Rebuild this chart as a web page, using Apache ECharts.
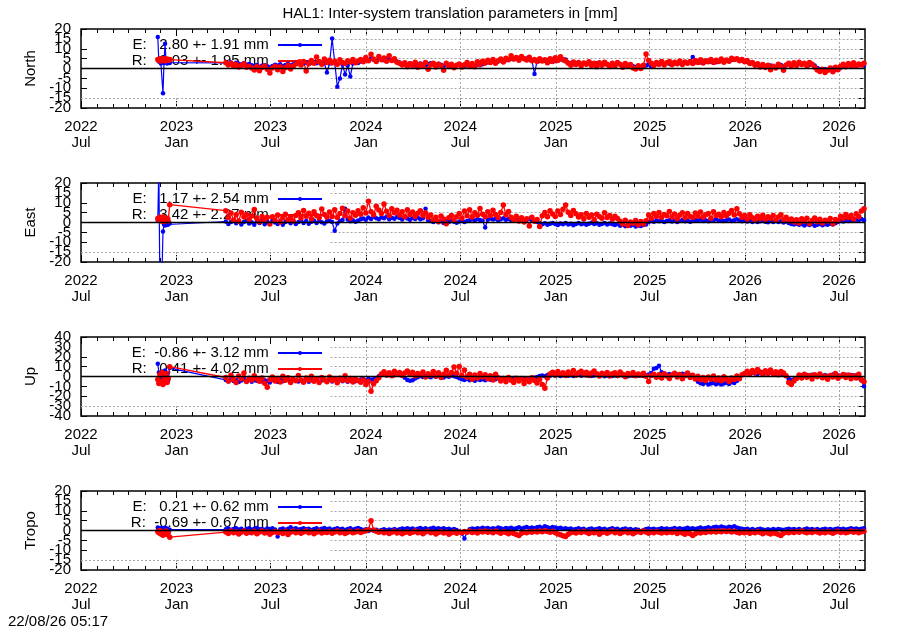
<!DOCTYPE html>
<html><head><meta charset="utf-8">
<script src="https://cdn.jsdelivr.net/npm/echarts@6/dist/echarts.min.js"></script>
<style>html,body{margin:0;padding:0;background:#fff}#c{width:900px;height:630px}</style>
</head><body><div id="c"></div>
<script>
const panelNames = ['North', 'East', 'Up', 'Tropo'];
const yRanges = [[-20, 20, 5], [-20, 20, 5], [-40, 40, 10], [-20, 20, 5]];
const yTicksSmall = [-20, -15, -10, -5, 0, 5, 10, 15, 20];
const yTicksUp = [-40, -30, -20, -10, 0, 10, 20, 30, 40];
const legendE = ['E:   2.80 +- 1.91 mm', 'E:   1.17 +- 2.54 mm', 'E:  -0.86 +- 3.12 mm', 'E:   0.21 +- 0.62 mm'];
const legendR = ['R:   3.03 +- 1.95 mm', 'R:   3.42 +- 2.27 mm', 'R:   0.41 +- 4.02 mm', 'R:  -0.69 +- 0.67 mm'];
const titleText = 'HAL1: Inter-system translation parameters in [mm]';
const footerText = '22/08/26 05:17';
const xStart = '2022-07-01';
const xEnd = '2026-08-20';
const majorTicks = ['2022-07-01', '2023-01-01', '2023-07-01', '2024-01-01', '2024-07-01', '2025-01-01', '2025-07-01', '2026-01-01', '2026-07-01'];
const monthNames = ['Jan', 'Feb', 'Mar', 'Apr', 'May', 'Jun', 'Jul', 'Aug', 'Sep', 'Oct', 'Nov', 'Dec'];
const gridCut = '2023-10-25';

// early segment (Nov/Dec 2022)
const earlyDates = ['2022-11-26', '2022-11-28', '2022-11-30', '2022-12-02', '2022-12-04', '2022-12-06', '2022-12-08', '2022-12-10', '2022-12-12', '2022-12-14', '2022-12-16', '2022-12-19'];
const northEEarly = [16, 3.5, 4, 2.5, 3, -12.5, 3, 12.5, 3.5, 2.5, 3, 2.8];
const northREarly = [4.5, 4.0, 5.0, 3.8, 4.6, 4.2, 5.1, 3.9, 4.4, 4.8, 4.0, 4.5];
const eastEEarly = [1.0, 28, -30, -30, -28, -4.6, -1.0, -1.5, -0.8, -1.2, -1.0, -0.5];
const eastREarly = [2.0, 1.2, 2.6, 0.8, 1.9, 2.8, 0.5, 1.5, 1.0, 2.2, 0.7, 9.0];
const upEEarly = [13, 4, -6, 2, -3, 5, -2, 6, 0, 3, -4, 8.5];
const upREarly = [-3, -7, 2, -5, 4, -8, 0, -4, 3, -6, -2, 10];
const tropoEEarly = [1.5, 1.0, 0.8, 1.2, 0.6, 1.1, 0.9, 1.4, 0.7, 1.0, 0.5, 0.4];
const tropoREarly = [-0.5, -1.2, 0.0, -1.8, -0.8, -2.4, -1.0, -1.6, -0.3, -2.0, -1.4, -3.4];

// main segment: from mainStart, one value every mainStepDays days
const mainStart = '2023-04-06';
const mainStepDays = 5;

const northE = [
2.8,2.5,3.1,2.2,2.9,2.4,2.0,2.6,1.9,2.3,
1.6,1.2,1.8,0.9,1.4,1.7,1.1,0.6,1.3,1.9,
1.5,2.1,1.2,1.8,2.4,1.6,2.2,2.8,2.5,2.0,
2.7,3.1,2.3,2.9,3.3,2.6,3.0,2.4,2.8,-2.0,
2.5,15.2,3.0,-9.2,-5.0,2.0,-3.0,1.5,-4.0,2.5,
3.2,2.8,3.5,3.9,4.6,4.1,5.0,4.4,3.8,5.2,
4.7,4.2,5.1,4.5,3.9,4.3,3.5,3.0,2.4,2.1,
1.8,2.6,2.2,1.5,1.9,2.5,2.0,1.6,2.3,2.7,
2.1,1.7,2.4,1.9,1.4,2.2,1.8,1.3,1.0,1.6,
2.0,1.4,1.1,1.8,1.5,0.9,1.3,1.9,1.6,2.2,
2.7,3.1,3.4,3.8,3.2,3.6,4.0,3.5,4.2,4.6,
5.0,4.7,5.3,4.9,5.4,4.8,5.1,4.5,4.2,-2.8,
4.0,3.8,4.3,3.9,4.1,3.6,4.4,3.8,4.3,4.7,
4.2,4.5,3.0,2.6,2.2,2.8,2.4,2.0,2.7,2.3,
2.9,2.5,2.1,2.6,2.2,1.8,2.4,2.0,1.6,2.3,
1.9,2.5,2.1,1.7,2.2,1.5,1.9,1.2,0.8,0.5,
0.3,0.9,1.5,2.0,1.2,1.8,2.3,2.0,2.6,2.2,
2.8,2.4,2.1,2.7,2.3,2.9,2.5,3.0,2.6,3.1,
5.8,3.2,3.5,3.1,3.7,3.3,3.9,3.4,3.8,3.2,
3.6,4.0,3.5,4.1,3.7,4.3,4.6,4.9,4.4,4.0,
3.8,3.3,3.0,2.6,2.2,1.8,1.4,1.9,1.2,0.9,
1.5,1.1,0.7,1.3,1.8,1.0,1.6,2.1,1.7,2.3,
1.9,2.4,2.0,2.6,2.2,1.8,2.3,1.5,0.2,-0.3,
-0.8,-0.2,-1.0,-0.5,0.0,-0.7,-0.3,0.4,1.0,1.4,
1.8,1.3,1.7,1.2,1.6,2.0,1.5];
const northR = [
2.9,1.8,2.6,1.2,2.2,0.8,1.5,2.4,0.6,1.1,
0.2,-0.8,1.0,-1.2,0.5,1.3,-0.4,-2.3,0.3,1.1,
-0.6,0.9,-1.5,0.4,1.6,-0.2,1.2,2.3,3.2,1.8,
3.5,-1.3,2.4,4.1,2.7,5.8,3.6,2.2,4.8,3.0,
4.2,2.8,3.7,2.1,4.4,3.1,2.5,3.9,3.3,4.6,
2.9,3.8,4.5,3.4,5.6,3.9,7.2,4.8,3.6,6.1,
4.4,5.3,3.7,6.4,4.1,5.0,3.2,2.7,1.8,2.9,
0.9,2.4,1.5,3.2,0.6,2.1,1.2,3.0,-0.4,1.8,
2.6,0.8,2.2,1.4,-0.9,2.7,1.0,2.1,0.4,1.6,
2.3,0.7,1.9,3.0,1.2,2.5,0.9,3.4,2.0,3.7,
2.8,4.2,3.1,4.5,2.6,3.9,4.8,3.3,5.2,4.4,
6.5,4.8,5.6,4.2,6.1,5.0,4.3,5.7,3.9,4.6,
3.5,5.0,3.8,4.4,2.9,4.9,3.6,5.5,4.1,6.0,
4.6,3.8,2.7,1.6,3.3,2.0,3.1,1.4,2.8,2.2,
3.4,1.5,2.6,0.9,2.9,1.7,3.2,2.1,1.0,2.7,
1.3,3.0,2.2,0.6,2.5,1.1,2.0,0.2,-0.3,1.4,
0.0,1.6,7.3,4.0,2.6,1.5,3.1,2.2,3.6,1.8,
2.9,3.5,1.9,3.2,2.4,3.8,2.0,3.3,2.7,3.6,
2.5,4.1,3.0,4.4,2.8,3.9,3.4,4.6,3.1,4.2,
3.5,4.8,3.2,4.3,3.7,5.2,4.5,5.0,3.9,4.6,
3.4,4.0,2.5,3.1,1.6,2.4,0.8,2.0,0.5,1.7,
-0.6,1.2,0.3,2.2,1.0,-0.9,1.8,2.6,1.1,2.9,
1.5,3.2,2.0,2.7,1.3,3.0,2.1,0.6,-0.8,-1.5,
-0.4,-2.0,-0.9,0.3,-1.6,0.6,-0.6,1.1,2.2,0.9,
2.5,1.4,2.9,1.0,2.3,1.8,2.6];
const eastE = [
0.5,-0.8,0.2,1.1,-0.4,0.7,-1.0,0.3,0.9,-0.5,
0.1,-1.2,0.6,-0.3,0.8,-0.9,0.4,-0.6,1.0,0.0,
-0.7,0.5,-1.1,0.2,0.9,-0.4,0.6,-0.8,0.3,1.2,
-0.2,0.7,-0.6,0.4,1.0,-0.3,0.8,0.1,-0.5,0.6,
0.9,0.2,-4.2,-0.5,0.8,1.3,7.0,1.5,0.6,1.2,
0.4,1.0,1.6,2.0,1.4,2.5,1.8,2.9,2.2,1.6,
2.7,2.1,3.0,1.7,2.4,1.9,2.8,2.3,1.5,2.6,
2.0,1.4,2.3,1.8,2.5,1.6,2.1,7.0,1.2,0.8,
0.3,0.9,0.1,0.7,-0.2,0.6,0.2,1.0,0.4,-0.1,
0.5,0.9,0.3,0.8,1.2,1.6,1.0,1.8,1.3,0.9,
-2.5,1.4,2.0,1.5,1.9,1.2,1.7,2.2,1.4,1.8,
1.1,1.6,2.0,1.3,1.7,1.0,1.5,1.9,1.2,0.8,
0.2,-0.5,-0.9,-0.4,-1.1,-0.6,-0.2,-0.8,-1.3,-0.5,
-0.9,-0.3,-1.0,-0.6,-1.4,-0.7,-0.2,-0.9,-0.5,-1.2,
-0.6,-0.1,-0.8,-0.4,-1.1,-0.7,-0.3,-1.0,-0.5,-0.9,
-1.3,-0.8,-1.6,-1.2,-1.9,-1.4,-1.7,-1.1,-2.0,-1.5,
-1.8,-1.3,-1.0,0.2,0.8,0.4,1.1,0.6,0.9,0.3,
0.7,1.2,0.5,0.9,0.2,0.8,1.3,0.6,1.0,0.4,
0.8,1.3,0.9,1.5,0.7,1.2,0.6,1.4,1.0,1.6,
0.9,1.3,0.7,1.1,1.5,0.8,1.2,1.7,1.0,0.6,
1.1,0.5,0.9,0.3,0.7,0.2,0.6,0.9,0.4,0.1,
0.7,0.3,0.8,0.2,0.6,0.0,0.5,-0.3,-0.7,-1.0,
-0.6,-1.2,-0.8,-1.5,-0.9,-1.3,-0.7,-1.6,-1.1,-0.8,
-1.4,-0.9,-1.2,-0.6,-1.0,-0.4,0.3,0.8,0.5,1.1,
0.7,1.3,0.9,1.5,1.0,1.8,1.2];
const eastR = [
6.0,2.5,4.8,1.2,3.9,0.6,5.2,2.8,4.1,1.7,
3.3,6.6,2.0,0.4,3.1,1.5,2.6,-0.8,2.9,1.1,
3.8,0.2,2.4,4.2,1.3,2.7,0.8,3.5,5.0,2.3,
6.1,3.2,4.7,1.9,5.5,3.6,2.4,6.8,4.0,2.8,
5.3,3.1,6.4,2.5,4.6,7.2,3.4,5.8,2.2,4.9,
3.7,6.0,4.2,7.5,4.8,10.8,5.4,3.9,8.2,6.3,
4.5,9.4,5.7,3.6,7.0,4.9,6.2,3.8,5.5,2.9,
6.4,4.1,5.3,3.0,4.7,6.0,3.5,4.9,2.6,3.8,
1.2,2.7,0.5,3.3,1.8,-0.6,2.4,3.6,1.0,2.9,
4.6,2.2,5.8,3.4,6.5,2.8,4.9,3.7,7.1,4.2,
2.9,5.5,3.6,6.2,4.0,2.5,5.1,8.8,3.9,5.6,
2.6,1.4,3.2,0.8,2.4,0.3,1.9,-1.8,2.7,0.6,
1.5,-2.0,3.4,5.1,2.9,6.0,4.3,3.1,5.8,4.0,
6.7,8.9,5.2,3.6,6.1,4.4,2.8,3.9,1.9,4.5,
2.6,3.8,1.4,4.2,3.0,2.1,4.9,2.5,3.5,1.7,
3.2,2.0,0.6,-0.8,1.2,-1.5,0.3,-0.4,1.0,-1.2,
0.5,-0.7,0.9,3.8,2.2,4.6,3.0,5.1,2.6,4.0,
3.4,5.6,2.8,4.3,1.9,3.7,5.0,2.4,4.5,3.1,
2.5,4.8,3.2,5.3,2.7,3.9,4.6,2.2,5.5,3.6,
4.2,2.9,5.1,3.4,4.7,6.1,3.8,7.0,4.4,2.6,
3.5,1.8,3.9,2.4,1.4,3.2,2.0,3.7,1.6,2.9,
2.2,3.6,1.1,2.8,3.9,1.5,2.6,0.9,1.8,0.2,
1.4,-0.3,1.9,0.6,2.1,-0.5,1.0,2.3,0.4,1.6,
-0.2,1.2,0.7,2.0,-0.6,1.5,0.9,3.2,2.1,4.0,
2.5,3.6,1.8,4.4,2.9,5.8,7.0];
const upE = [
-3.5,-5.0,-2.8,-4.6,-3.2,-5.5,-4.1,-2.9,-4.8,-3.6,
-5.2,-3.9,-4.4,-2.7,-5.0,-3.8,-4.5,-6.0,-3.3,-4.2,
-5.4,-3.1,-4.7,-3.9,-2.6,-4.9,-3.5,-4.3,-5.1,-3.7,
-4.6,-2.9,-5.3,-3.8,-4.2,-3.0,-5.6,-4.0,-3.4,-4.8,
-3.2,-5.0,-3.7,-4.4,-2.8,-4.9,-3.6,-5.2,-4.1,-3.3,
-4.7,-3.9,-3.0,-2.5,-3.8,-2.2,-3.4,-2.7,-1.5,0.2,
1.4,2.3,0.9,1.8,2.6,1.2,2.0,1.5,0.6,-1.2,
-3.5,-4.2,-3.8,-2.1,-0.8,0.4,-0.5,0.8,0.1,-0.7,
0.5,-0.3,1.0,0.2,-0.9,0.6,-0.2,0.9,0.3,-0.6,
-1.8,-2.9,-3.6,-2.4,-3.9,-3.1,-4.2,-2.7,-3.5,-2.8,
-3.8,-2.5,-3.2,-2.1,-2.9,-1.7,-2.4,-1.5,-2.6,-1.9,
-2.8,-1.4,-2.2,-3.0,-1.6,-2.5,-1.8,-3.3,-2.0,-1.2,
-0.5,0.4,1.0,0.3,1.4,0.7,1.8,0.9,1.5,0.6,
1.3,2.0,0.8,1.6,0.5,1.2,1.9,0.7,1.4,0.9,
1.7,0.4,1.1,2.1,0.8,1.5,0.3,1.0,1.8,0.6,
1.2,0.5,1.6,0.9,1.4,0.2,1.1,0.7,1.5,0.8,
1.3,0.6,1.0,1.9,3.5,7.8,8.5,11.0,4.2,2.6,
1.8,2.5,1.4,2.9,2.1,1.6,2.7,1.9,2.4,1.2,
0.5,-2.0,-5.2,-6.8,-7.5,-6.1,-8.0,-7.2,-6.5,-7.8,
-6.9,-8.2,-7.0,-6.3,-7.6,-5.8,-6.7,-4.5,-1.8,1.5,
2.8,3.4,2.5,3.9,3.1,2.6,3.6,4.2,3.3,2.7,
3.8,3.0,2.4,3.5,2.9,1.8,0.5,-2.4,-3.5,-2.8,
-1.5,0.4,1.2,0.6,1.5,0.9,1.8,1.1,0.3,1.4,
0.8,1.6,0.5,1.2,1.9,0.7,1.3,0.4,1.0,1.7,
0.9,1.5,0.6,1.2,-1.5,-4.0,-9.8];
const upR = [
-1.0,-4.5,1.2,-3.0,-6.2,0.5,-2.4,3.6,-5.1,-1.8,
-3.6,0.8,-2.2,-4.9,-1.5,-6.8,-11.0,-3.2,-0.4,-4.6,
-2.0,-5.5,0.3,-3.8,-1.2,-6.1,-2.7,-4.3,0.9,-3.5,
-5.8,-1.6,-3.9,0.2,-4.7,-2.3,-6.0,-1.0,-3.4,-5.2,
-0.6,-4.0,-2.5,-6.3,-1.8,-3.7,0.7,-4.4,-2.1,-5.6,
-2.9,-4.1,-5.8,-3.6,-8.2,-5.0,-15.0,-7.4,-4.3,-1.2,
2.5,4.8,1.6,3.9,0.8,5.2,2.7,4.1,1.3,3.5,
5.6,2.0,4.4,0.5,3.1,1.8,4.6,-0.4,2.9,1.2,
5.0,0.6,3.7,-1.1,2.4,6.3,1.5,4.0,9.6,3.2,
10.2,1.0,6.5,-0.8,2.3,-2.9,1.4,-1.6,3.0,-0.5,
1.8,-2.4,0.7,-3.6,2.2,-1.3,-4.5,-2.0,-5.2,-0.9,
-3.8,-6.0,-1.7,-4.6,-2.5,-7.1,-3.0,-5.4,-1.2,-4.0,
-6.5,-2.8,-8.0,-12.0,-1.5,2.6,4.3,1.4,5.0,2.1,
3.7,0.9,4.6,2.4,6.0,1.6,3.9,5.2,2.0,4.4,
1.1,3.6,5.5,2.8,0.6,3.3,1.9,4.1,0.4,2.7,
3.8,1.0,4.5,2.2,-0.2,3.1,1.5,4.0,0.8,2.6,
1.3,3.4,0.2,-5.0,0.9,2.3,-0.8,1.7,-1.5,2.9,
0.4,-1.9,1.6,3.2,-0.6,2.0,-2.2,0.8,3.5,-1.0,
1.2,-2.5,0.3,-3.4,-1.1,-4.0,-0.5,-2.8,0.6,-3.6,
-1.6,-4.3,-0.2,-2.9,-5.0,-1.4,-3.1,0.5,-2.2,1.8,
3.0,5.4,2.6,6.2,3.8,7.0,4.5,2.2,5.8,3.4,
6.6,2.9,4.8,1.7,5.1,3.6,0.8,-6.2,-8.0,-4.5,
-2.0,1.4,-1.6,2.3,-0.7,0.9,-2.5,1.8,-0.3,2.6,
-1.2,0.5,-2.8,1.1,-0.4,3.0,-1.7,0.2,2.1,-1.0,
1.5,-2.3,0.8,-1.4,2.4,-3.0,-5.2];
const tropoE = [
0.6,1.0,0.4,0.8,1.2,0.5,0.9,0.3,0.7,1.1,
0.5,0.9,1.3,0.6,0.8,0.4,1.0,0.7,1.2,0.5,
-3.0,0.6,1.0,0.4,0.9,1.6,0.7,1.1,0.5,0.8,
1.2,0.6,0.9,0.3,0.8,1.1,0.5,0.9,1.3,0.7,
1.0,0.4,0.8,1.2,0.6,0.9,0.3,0.7,1.1,0.5,
0.9,1.3,0.8,0.2,0.6,-0.2,0.3,0.0,0.4,-0.1,
0.3,0.6,0.1,0.5,0.2,0.7,0.3,0.6,1.0,0.8,
1.2,0.7,1.0,0.5,0.9,1.3,0.8,1.1,0.6,1.0,
1.4,0.9,1.2,0.7,1.1,0.6,0.9,0.4,0.8,0.2,
-0.5,-1.5,-4.0,-0.8,0.6,1.0,0.7,1.2,0.9,1.4,
1.0,1.3,0.8,1.2,0.9,1.5,1.1,0.7,1.3,1.0,
1.4,0.9,1.2,1.6,1.0,1.4,1.8,1.2,1.5,1.1,
1.6,1.9,1.4,2.1,1.7,1.3,1.8,1.5,1.1,1.4,
0.9,1.2,0.7,1.0,0.5,0.8,1.1,0.6,0.9,0.3,
0.7,1.0,0.5,0.8,1.2,0.6,0.9,0.4,0.8,1.1,
0.6,0.9,0.3,0.7,1.0,0.5,0.8,0.2,0.6,0.4,
-0.5,0.3,0.7,1.0,0.6,0.9,0.5,0.8,1.2,0.7,
1.0,0.6,0.9,1.3,0.8,1.1,0.7,1.0,1.4,0.9,
1.2,0.8,1.1,1.5,1.0,1.3,1.7,1.2,1.6,1.9,
1.5,2.0,1.7,1.4,1.9,1.6,2.1,1.5,1.2,0.9,
0.6,0.9,0.4,0.7,0.3,0.6,0.9,0.5,0.2,0.6,
0.3,0.7,0.4,0.8,0.5,0.2,0.6,0.9,0.5,0.8,
0.4,0.7,0.3,0.6,1.0,0.5,0.8,0.4,0.7,0.3,
0.6,0.9,0.5,0.8,0.4,0.7,1.0,0.6,0.9,0.5,
0.8,1.1,0.7,1.0,0.6,0.9,1.2];
const tropoR = [
-0.8,-1.5,-0.3,-1.2,-0.6,-1.8,-0.9,-0.2,-1.4,-0.7,
-1.1,-0.4,-1.6,-0.8,-0.3,-1.3,-0.6,-1.9,-1.0,-0.5,
-1.2,-0.7,-1.5,-0.4,-2.0,-0.9,-0.3,-1.1,-0.6,-1.4,
-0.8,-0.2,-1.2,-0.6,-1.7,-0.9,-0.4,-1.3,-0.7,-1.0,
-0.5,-1.4,-0.8,-0.3,-1.1,-0.6,-1.5,-0.9,-0.4,-1.2,
-0.7,-0.2,-1.0,-0.5,-0.1,0.4,5.0,0.2,-0.4,-0.9,
-0.5,-1.2,-0.7,-1.5,-0.9,-0.4,-1.3,-0.8,-1.7,-1.0,
-0.6,-1.4,-0.9,-0.3,-1.1,-0.7,-1.6,-0.8,-0.4,-1.2,
-0.9,-1.8,-1.0,-0.5,-1.3,-0.7,-1.9,-1.1,-0.6,-1.4,
-0.8,-1.2,-0.5,-0.9,-0.3,-1.0,-0.6,-1.3,-0.4,-0.8,
-0.2,-0.9,-0.5,-1.1,-0.3,-0.8,-1.4,-0.6,-1.0,-1.7,
-0.9,-1.5,-2.0,-2.5,-1.4,-0.8,-1.2,-0.5,-0.9,-0.4,
-0.8,-0.3,-0.6,-0.1,-0.5,-0.9,-0.4,-1.1,-1.8,-2.2,
-2.6,-3.0,-1.9,-1.2,-0.7,-1.3,-0.6,-1.0,-0.4,-0.9,
-1.5,-0.8,-1.2,-0.5,-1.9,-1.0,-0.6,-1.4,-0.8,-0.3,
-1.1,-0.6,-1.5,-0.9,-0.4,-1.2,-0.7,-1.6,-0.9,-0.5,
-1.0,-0.3,-0.8,-1.4,-0.6,-1.1,-0.5,-0.9,-1.3,-0.7,
-1.2,-0.6,-1.0,-0.4,-1.5,-0.8,-1.3,-1.9,-1.1,-1.7,
-2.5,-1.6,-0.9,-1.3,-0.6,-1.0,-0.4,-0.8,-0.3,-0.7,
-0.2,-0.6,-0.1,-0.5,-0.3,-0.8,-0.4,-0.9,-1.3,-0.7,
-1.1,-0.6,-1.4,-0.8,-1.2,-0.5,-1.0,-1.6,-0.9,-1.3,
-1.8,-1.1,-1.5,-2.0,-2.5,-1.4,-0.9,-1.2,-0.6,-1.0,
-0.5,-0.9,-0.3,-0.7,-1.2,-0.6,-1.0,-0.4,-0.8,-1.3,
-0.7,-1.1,-0.5,-0.9,-1.4,-0.8,-0.4,-1.0,-0.6,-1.2,
-0.8,-0.3,-0.9,-0.5,-1.1,-0.6,-0.4];

const earlyE = [northEEarly, eastEEarly, upEEarly, tropoEEarly];
const earlyR = [northREarly, eastREarly, upREarly, tropoREarly];
const mainE = [northE, eastE, upE, tropoE];
const mainR = [northR, eastR, upR, tropoR];
const yTickSets = [yTicksSmall, yTicksSmall, yTicksUp, yTicksSmall];

const FONT = 'Liberation Sans';
const gridTops = [29, 183, 337, 491];
const gridH = 79;

function ts(s) { const p = s.split('-').map(Number); return new Date(p[0], p[1] - 1, p[2] || 1).getTime(); }
const xMin = ts(xStart), xMax = ts(xEnd), cutT = ts(gridCut);
const majorT = majorTicks.map(ts);
const minorT = [];
{
  const s = new Date(xMin);
  for (let k = 1; ; k++) {
    const t = new Date(s.getFullYear(), s.getMonth() + k, 1).getTime();
    if (t > xMax) break;
    if (majorT.indexOf(t) < 0) minorT.push(t);
  }
}
const ms = mainStart.split('-').map(Number);
function mainDate(i) { return new Date(ms[0], ms[1] - 1, ms[2] + mainStepDays * i).getTime(); }
function buildData(early, main) {
  const out = early.map((v, i) => [ts(earlyDates[i]), v]);
  main.forEach((v, i) => out.push([mainDate(i), v]));
  return out;
}

const grids = [], xAxes = [], yAxes = [], series = [], legends = [];
for (let p = 0; p < 4; p++) {
  const [ymin, ymax, yint] = yRanges[p];
  const ticks = yTickSets[p];
  grids.push({ left: 81, right: 35, top: gridTops[p], height: gridH, show: true, borderColor: '#000', borderWidth: 1.5, backgroundColor: 'transparent' });
  const xb = { gridIndex: p, type: 'value', min: xMin, max: xMax, axisLine: { show: false, onZero: false }, splitLine: { show: false } };
  const tickStyle = { color: '#000', width: 1 };
  xAxes.push(Object.assign({}, xb, { position: 'bottom',
    axisTick: { show: true, inside: true, length: 7, customValues: majorT, lineStyle: tickStyle },
    axisLabel: { show: true, customValues: majorT, fontSize: 15, lineHeight: 16, margin: 11, color: '#000', fontFamily: FONT,
      showMinLabel: true, showMaxLabel: true,
      formatter: v => { const d = new Date(v); return d.getFullYear() + '\n' + monthNames[d.getMonth()]; } } }));
  xAxes.push(Object.assign({}, xb, { position: 'bottom',
    axisTick: { show: true, inside: true, length: 4, customValues: minorT, lineStyle: tickStyle }, axisLabel: { show: false } }));
  xAxes.push(Object.assign({}, xb, { position: 'top',
    axisTick: { show: true, inside: true, length: 7, customValues: majorT, lineStyle: tickStyle }, axisLabel: { show: false } }));
  xAxes.push(Object.assign({}, xb, { position: 'top',
    axisTick: { show: true, inside: true, length: 4, customValues: minorT, lineStyle: tickStyle }, axisLabel: { show: false } }));
  const yLab = { fontSize: 15, color: '#000', margin: 10, fontFamily: FONT, hideOverlap: false };
  yAxes.push({ gridIndex: p, type: 'value', min: ymin, max: ymax, interval: yint, position: 'left', offset: 0,
    name: panelNames[p], nameLocation: 'middle', nameRotate: 90, nameGap: 42,
    nameTextStyle: { fontSize: 15, color: '#000', fontFamily: FONT },
    axisLine: { show: false, onZero: false },
    axisTick: { show: true, inside: true, length: 6, lineStyle: tickStyle },
    axisLabel: Object.assign({ customValues: ticks, showMinLabel: true, showMaxLabel: true }, yLab),
    splitLine: { show: false } });
  yAxes.push({ gridIndex: p, type: 'value', min: ymin, max: ymax, interval: yint, position: 'right',
    axisLine: { show: false, onZero: false },
    axisTick: { show: true, inside: true, length: 6, lineStyle: tickStyle },
    axisLabel: { show: false }, splitLine: { show: false } });
  // auxiliary label axis for the labels next to the extremes (ticks[1] and ticks[len-2])
  yAxes.push({ gridIndex: p, type: 'value', min: ymin, max: ymax, interval: yint, position: 'left', offset: 0,
    axisLine: { show: false, onZero: false }, axisTick: { show: false },
    axisLabel: Object.assign({ customValues: [ticks[1], ticks[ticks.length - 2]] }, yLab),
    splitLine: { show: false } });

  // dotted grid segments
  const segs = [];
  for (let y = ymin + yint; y < ymax; y += yint) {
    if (y === 0) continue;
    const x0 = (y <= ymin + yint) ? xMin : cutT;
    segs.push([{ coord: [x0, y] }, { coord: [xMax, y] }]);
  }
  majorT.forEach(t => {
    if (t <= xMin) return;
    if (t >= cutT) segs.push([{ coord: [t, ymin] }, { coord: [t, ymax] }]);
    else segs.push([{ coord: [t, ymin] }, { coord: [t, ymin + 1.25 * yint] }]);
  });
  const yi = 3 * p;
  series.push({ type: 'line', xAxisIndex: 4 * p, yAxisIndex: yi, data: [], silent: true, z: 1,
    markLine: { silent: true, z: 1, animation: false, symbol: ['none', 'none'], label: { show: false },
      emphasis: { disabled: true }, lineStyle: { color: '#a8a8a8', type: [2, 2], width: 1 }, data: segs } });

  series.push({ name: legendE[p], type: 'line', xAxisIndex: 4 * p, yAxisIndex: yi,
    data: buildData(earlyE[p], mainE[p]), symbol: 'circle', symbolSize: 4.5, showSymbol: true, clip: true,
    lineStyle: { width: 1.2, color: '#0000ff' }, itemStyle: { color: '#0000ff' }, z: 2, silent: true });
  series.push({ name: legendR[p], type: 'line', xAxisIndex: 4 * p, yAxisIndex: yi,
    data: buildData(earlyR[p], mainR[p]), symbol: 'circle', symbolSize: 5.5, showSymbol: true, clip: true,
    lineStyle: { width: 1.3, color: '#ff0000' }, itemStyle: { color: '#ff0000' }, z: 2, silent: true });
  series.push({ type: 'line', xAxisIndex: 4 * p, yAxisIndex: yi, data: [[xMin, 0], [xMax, 0]],
    symbol: 'none', lineStyle: { color: '#000', width: 1.5 }, z: 3, silent: true });

  legends.push({ data: [legendE[p], legendR[p]], orient: 'vertical', align: 'right', right: 577, top: gridTops[p] + 8,
    itemGap: 0, itemWidth: 44, itemHeight: 5, padding: 0, selectedMode: false, z: 1,
    textStyle: { fontSize: 15, color: '#000', lineHeight: 16, fontFamily: FONT },
    formatter: n => n + ' ' });
}

const chart = echarts.init(document.getElementById('c'), null, { renderer: 'canvas' });
chart.setOption({
  animation: false,
  backgroundColor: '#fff',
  title: [
    { text: titleText, left: 'center', top: 6, padding: 0, textStyle: { fontSize: 15, fontWeight: 'normal', color: '#000', fontFamily: FONT } },
    { text: footerText, left: 8, top: 614, padding: 0, textStyle: { fontSize: 15, fontWeight: 'normal', color: '#000', fontFamily: FONT } }
  ],
  legend: legends,
  grid: grids,
  xAxis: xAxes,
  yAxis: yAxes,
  series: series
});
</script></body></html>
